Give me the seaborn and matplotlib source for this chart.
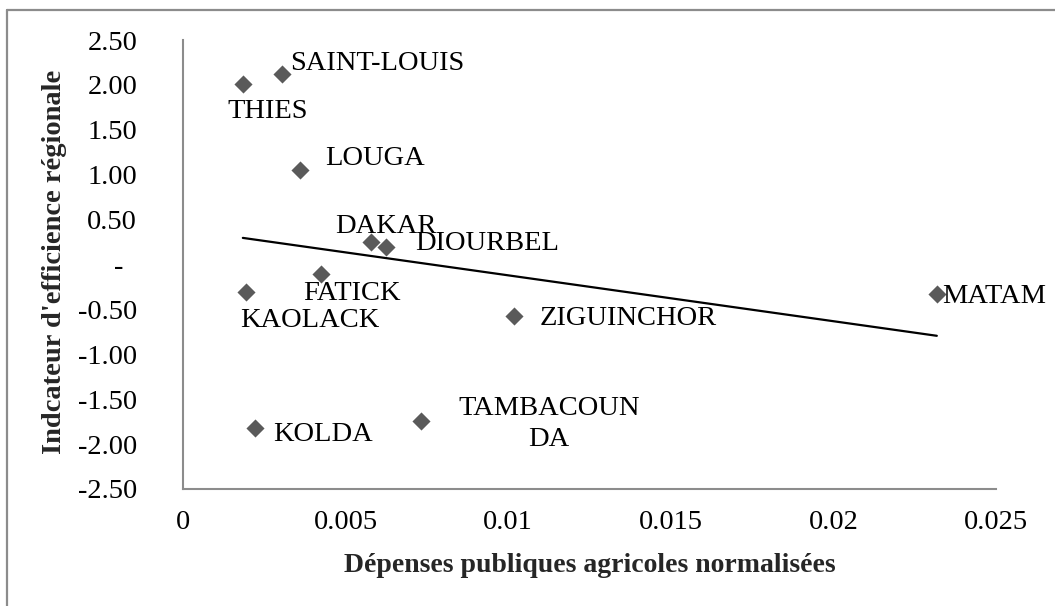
import numpy as np
import pandas as pd
import matplotlib.pyplot as plt
from matplotlib.lines import Line2D
from matplotlib.ticker import FixedLocator, FixedFormatter
import seaborn as sns

# values
regions = ["THIES", "SAINT-LOUIS", "LOUGA", "DAKAR", "DIOURBEL", "FATICK",
           "KAOLACK", "ZIGUINCHOR", "MATAM", "KOLDA", "TAMBACOUN\nDA"]
depenses = [0.00184, 0.00305, 0.00360, 0.00577, 0.00623, 0.00424,
            0.00193, 0.01019, 0.02318, 0.00221, 0.00731]
efficience = [2.01, 2.12, 1.05, 0.25, 0.19, -0.11,
              -0.31, -0.57, -0.33, -1.82, -1.74]

x_ticks = [0, 0.005, 0.01, 0.015, 0.02, 0.025]
x_tick_labels = ["0", "0.005", "0.01", "0.015", "0.02", "0.025"]
y_ticks = [2.5, 2.0, 1.5, 1.0, 0.5, 0.0, -0.5, -1.0, -1.5, -2.0, -2.5]
y_tick_labels = ["2.50", "2.00", "1.50", "1.00", "0.50", "-  ", "-0.50",
                 "-1.00", "-1.50", "-2.00", "-2.50"]

# label offsets in pixels (dx, dy, ha)
label_pos = {
    "THIES": (25, -27, "center"),
    "SAINT-LOUIS": (8, 11, "left"),
    "LOUGA": (25, 12, "left"),
    "DAKAR": (-35, 16, "left"),
    "DIOURBEL": (30, 4, "left"),
    "FATICK": (-18, -19, "left"),
    "KAOLACK": (-6, -28, "left"),
    "ZIGUINCHOR": (25, -3, "left"),
    "MATAM": (5, -2, "left"),
    "KOLDA": (18, -7, "left"),
    "TAMBACOUN\nDA": (128, -3, "center"),
}

df = pd.DataFrame({"region": regions, "x": depenses, "y": efficience})

sns.set_theme(style="white")
plt.rcParams["font.family"] = ["Liberation Serif", "DejaVu Serif"]

fig = plt.figure(figsize=(10.55, 6.06), dpi=100)
ax = fig.add_axes([183 / 1055, 1 - 489 / 606, (996 - 183) / 1055, (489 - 40) / 606])

sns.regplot(data=df, x="x", y="y", scatter=False, ci=None, ax=ax,
            color="black", line_kws={"linewidth": 1.6})
sns.scatterplot(data=df, x="x", y="y", marker="D", s=85, color="#5a5a5a",
                linewidth=0, ax=ax, zorder=3)

for _, row in df.iterrows():
    dx, dy, ha = label_pos[row["region"]]
    ax.annotate(row["region"], (row["x"], row["y"]), xytext=(dx, dy),
                textcoords="offset pixels", ha=ha, va="center",
                fontsize=20.5, color="black", linespacing=1.3, zorder=4)

ax.set_xlim(0, 0.025)
ax.set_ylim(-2.5, 2.5)
ax.xaxis.set_major_locator(FixedLocator(x_ticks))
ax.xaxis.set_major_formatter(FixedFormatter(x_tick_labels))
ax.yaxis.set_major_locator(FixedLocator(y_ticks))
ax.yaxis.set_major_formatter(FixedFormatter(y_tick_labels))
ax.tick_params(axis="both", length=0, labelsize=20.5, colors="black")
ax.tick_params(axis="y", pad=33)
ax.tick_params(axis="x", pad=15)

for side in ["top", "right"]:
    ax.spines[side].set_visible(False)
for side in ["left", "bottom"]:
    ax.spines[side].set_color("#8c8c8c")
    ax.spines[side].set_linewidth(1.5)

ax.set_xlabel("Dépenses publiques agricoles normalisées", fontsize=20,
              fontweight="bold")
ax.set_ylabel("Indcateur d'efficience régionale", fontsize=20.5,
              fontweight="bold")
ax.xaxis.set_label_coords(0.5, -0.142)
ax.yaxis.set_label_coords(-0.1427, 0.505)

# chart-area frame (left and top edges visible in the crop)
fig.add_artist(Line2D([7 / 1055, 7 / 1055], [0, 1 - 9.5 / 606],
                      transform=fig.transFigure, color="#8c8c8c", linewidth=1.6))
fig.add_artist(Line2D([7 / 1055, 1], [1 - 9.5 / 606, 1 - 9.5 / 606],
                      transform=fig.transFigure, color="#8c8c8c", linewidth=1.6))

fig.savefig("out.png", dpi=100)
